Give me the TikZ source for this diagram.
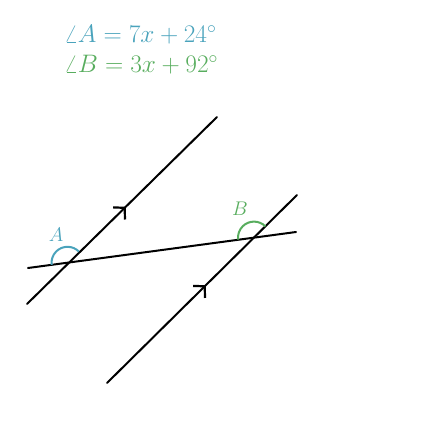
\RequirePackage{fix-cm}
\documentclass[tikz,border=0pt]{standalone}
\usepackage{graphicx}
\usetikzlibrary{arrows.meta,decorations.markings,calc}
\definecolor{ateal}{HTML}{4AA3BC}
\definecolor{bgreen}{HTML}{58AD5E}
\begin{document}
\begin{tikzpicture}[x=1pt,y=-1pt,
  ln/.style={line width=2pt, line cap=round},
  par/.style={ln, postaction={decorate}, decoration={markings, mark=at position 0.52 with {\arrow[line width=2.2pt]{Straight Barb[length=8pt,width=17pt]}}}},
  arcA/.style={ateal, line width=2pt},
  arcB/.style={bgreen, line width=2pt},
  lbl/.style={inner sep=0pt},
  eq/.style={anchor=west, inner sep=0pt}]
\useasboundingbox (0,0) rectangle (422,423);
\node[eq, text=ateal] (eqA) at (64,35) {\scalebox{1.234}{\fontsize{20.5}{24}\selectfont$\angle A = 7x + 24^\circ$}};
\node[eq, text=bgreen] (eqB) at (64,65) {\scalebox{1.234}{\fontsize{20.5}{24}\selectfont$\angle B = 3x + 92^\circ$}};
\coordinate (l1a) at (27,304);
\coordinate (l1b) at (217,117);
\coordinate (l2a) at (107,383);
\coordinate (l2b) at (297,195);
\coordinate (ta) at (28,268);
\coordinate (tb) at (296,232);
\draw[par] (l1a) -- (l1b);
\draw[par] (l2a) -- (l2b);
\draw[ln] (ta) -- (tb);
\coordinate (A) at (67.5,262.8);
\coordinate (B) at (254,237.6);
\draw[arcA] ($(A)+(-44.5:16)$) arc[start angle=-44.5, end angle=-187.6, radius=16];
\draw[arcB] ($(B)+(-44.5:16)$) arc[start angle=-44.5, end angle=-187.6, radius=16];
\node[lbl, text=ateal] (la) at (56,235) {\scalebox{1.234}{\fontsize{16}{18}\selectfont$A$}};
\node[lbl, text=bgreen] (lb) at (240,209) {\scalebox{1.234}{\fontsize{16}{18}\selectfont$B$}};
\end{tikzpicture}
\end{document}
